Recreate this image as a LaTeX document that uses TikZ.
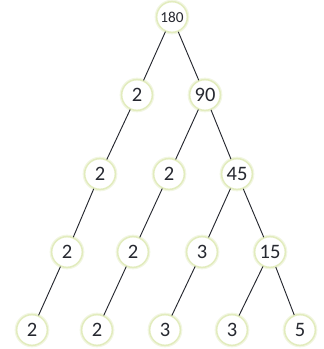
\documentclass[tikz,border=0pt]{standalone}
\usepackage{fontspec}
\setmainfont{Carlito}
\usetikzlibrary{positioning}
\definecolor{RingGreen}{RGB}{226,236,190}
\definecolor{GlowGreen}{RGB}{242,246,226}
\definecolor{EdgeGray}{RGB}{38,40,48}
\tikzset{
  factor/.style={circle,draw=RingGreen,line width=0.45mm,fill=white,
    minimum size=9.2mm,inner sep=0pt,font=\fontsize{17.5}{17.5}\selectfont,
    text=EdgeGray,
    preaction={draw=GlowGreen,line width=1.2mm}},
  rootfactor/.style={factor,font=\fontsize{13}{13}\selectfont},
  branch/.style={draw=EdgeGray,line width=0.8pt}
}

\begin{document}
\begin{tikzpicture}[x=0.3mm,y=-0.3mm]
  \useasboundingbox (0,0) rectangle (323,349);

  \node[rootfactor] (n180) at (172,17) {180};

  \node[factor] (a2) at (137,95) {2};
  \node[factor] (n90) at (205,95) {90};

  \node[factor] (b2) at (100,174) {2};
  \node[factor] (c2) at (169,174) {2};
  \node[factor] (n45) at (237,174) {45};

  \node[factor] (d2) at (67,252) {2};
  \node[factor] (e2) at (133,252) {2};
  \node[factor] (f3) at (202,252) {3};
  \node[factor] (n15) at (270,252) {15};

  \node[factor] (g2) at (32,330) {2};
  \node[factor] (h2) at (97,330) {2};
  \node[factor] (i3) at (165,330) {3};
  \node[factor] (j3) at (232,330) {3};
  \node[factor] (k5) at (300,330) {5};

  \draw[branch] (n180) -- (a2);
  \draw[branch] (n180) -- (n90);
  \draw[branch] (a2) -- (b2);
  \draw[branch] (n90) -- (c2);
  \draw[branch] (n90) -- (n45);
  \draw[branch] (b2) -- (d2);
  \draw[branch] (c2) -- (e2);
  \draw[branch] (n45) -- (f3);
  \draw[branch] (n45) -- (n15);
  \draw[branch] (d2) -- (g2);
  \draw[branch] (e2) -- (h2);
  \draw[branch] (f3) -- (i3);
  \draw[branch] (n15) -- (j3);
  \draw[branch] (n15) -- (k5);
\end{tikzpicture}
\end{document}
